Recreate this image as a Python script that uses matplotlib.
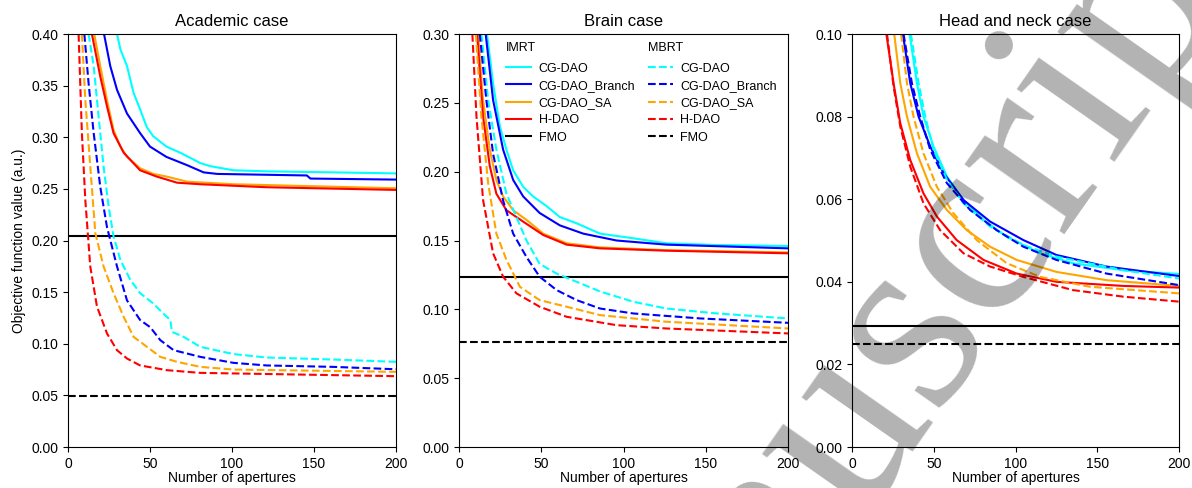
import matplotlib
matplotlib.use("Agg")
import matplotlib.pyplot as plt
import matplotlib.text as mtext
from matplotlib.legend_handler import HandlerBase
from matplotlib.lines import Line2D

plt.rcParams['font.family'] = ['Liberation Sans', 'DejaVu Sans']

# (number of apertures, objective value)
acad_imrt_cg = [(29.9, 0.40), (32, 0.385), (36, 0.369), (40, 0.343), (44, 0.327), (48, 0.310), (52, 0.301),
                (60, 0.291), (68.5, 0.285), (80.7, 0.275), (86.8, 0.272), (101, 0.268), (121, 0.267),
                (162, 0.266), (200, 0.265)]
acad_imrt_branch = [(22, 0.40), (25.8, 0.369), (29.9, 0.346), (36, 0.323), (44, 0.304), (50, 0.291),
                    (60, 0.281), (72.6, 0.273), (82.7, 0.266), (91, 0.2645), (145.7, 0.263), (147.8, 0.260),
                    (200, 0.259)]
acad_imrt_sa = [(16, 0.40), (19.7, 0.369), (23.8, 0.336), (27.8, 0.307), (32, 0.291), (36, 0.281), (44, 0.270),
                (52, 0.2645), (60, 0.262), (72.6, 0.257), (101, 0.2545), (200, 0.2506)]
acad_imrt_hdao = [(14.6, 0.40), (19.7, 0.359), (23.8, 0.330), (27.8, 0.304), (34, 0.285), (44, 0.268),
                  (54, 0.262), (66.5, 0.256), (80.7, 0.2545), (121, 0.2516), (200, 0.249)]
acad_mbrt_cg = [(12.6, 0.40), (15.7, 0.369), (18.7, 0.320), (21.7, 0.272), (24.8, 0.233), (27.8, 0.204),
                (32, 0.181), (38, 0.162), (44, 0.149), (52, 0.139), (58.3, 0.129), (62.4, 0.123), (63.4, 0.1116),
                (70.5, 0.1067), (80.7, 0.097), (101, 0.090), (121, 0.0867), (162, 0.0847), (200, 0.0825)]
acad_mbrt_branch = [(10, 0.40), (12.6, 0.352), (15.7, 0.304), (19.7, 0.252), (23.8, 0.213), (29.9, 0.175),
                    (36, 0.142), (44, 0.123), (50.2, 0.116), (56.3, 0.1035), (64.4, 0.0938), (80.7, 0.0873),
                    (101, 0.0815), (121, 0.079), (162, 0.0776), (200, 0.0753)]
acad_mbrt_sa = [(8.5, 0.40), (10.6, 0.336), (13.6, 0.272), (16.7, 0.207), (21.7, 0.175), (27.8, 0.149),
                (34, 0.126), (40, 0.1067), (48.2, 0.097), (56.3, 0.0873), (66.5, 0.0825), (80.7, 0.0776),
                (101, 0.075), (200, 0.0728)]
acad_mbrt_hdao = [(6.5, 0.40), (8.5, 0.304), (10.6, 0.239), (13.6, 0.175), (17.7, 0.136), (23.8, 0.110),
                  (29.9, 0.0938), (36, 0.0857), (44, 0.079), (60.4, 0.0744), (80.7, 0.0718), (200, 0.0686)]
acad_fmo = (0.204, 0.0495)  # IMRT, MBRT

brain_imrt_cg = [(17, 0.30), (20.7, 0.264), (24.8, 0.233), (28.8, 0.216), (32.9, 0.201), (39, 0.189),
                 (45, 0.182), (53.2, 0.175), (61.3, 0.167), (71.5, 0.1625), (85.7, 0.155), (106, 0.1516),
                 (126, 0.148), (157, 0.1467), (200, 0.146)]
brain_imrt_branch = [(16.2, 0.30), (20.7, 0.252), (26.8, 0.216), (32.9, 0.194), (39, 0.182), (49, 0.170),
                     (61.3, 0.161), (75.5, 0.155), (95.8, 0.150), (126, 0.147), (167, 0.1455), (200, 0.1443)]
brain_imrt_sa = [(11.6, 0.30), (14.6, 0.252), (18.7, 0.216), (22.7, 0.194), (26.8, 0.182), (32.9, 0.172),
                 (41, 0.165), (51.2, 0.155), (65.4, 0.148), (85.7, 0.145), (126, 0.143), (200, 0.1414)]
brain_imrt_hdao = [(11, 0.30), (14.6, 0.240), (18.7, 0.204), (22.7, 0.184), (28.8, 0.172), (39, 0.1637),
                   (51.2, 0.154), (65.4, 0.147), (85.7, 0.1443), (126, 0.1426), (200, 0.1407)]
brain_mbrt_cg = [(13.6, 0.30), (17.7, 0.252), (22.7, 0.216), (28.8, 0.184), (34.9, 0.167), (41, 0.150),
                 (49, 0.133), (59.3, 0.126), (71.5, 0.120), (85.7, 0.113), (106, 0.1055), (126, 0.1006),
                 (157, 0.097), (200, 0.0934)]
brain_mbrt_branch = [(12.6, 0.30), (16.6, 0.252), (20.7, 0.213), (26.8, 0.179), (32.9, 0.155), (41, 0.138),
                     (49, 0.1237), (59.3, 0.114), (71.5, 0.1067), (85.7, 0.1006), (106, 0.097), (146.6, 0.0934),
                     (200, 0.0902)]
brain_mbrt_sa = [(10.2, 0.30), (13.6, 0.240), (17.7, 0.1916), (22.7, 0.155), (28.8, 0.136), (37, 0.1164),
                 (49, 0.1067), (65.4, 0.1019), (85.7, 0.0958), (126, 0.091), (200, 0.0861)]
brain_mbrt_hdao = [(8.1, 0.30), (10.6, 0.240), (14.6, 0.1795), (20.7, 0.1407), (26.8, 0.1237), (34.9, 0.1116),
                   (49, 0.1019), (65.4, 0.0946), (95.8, 0.0885), (126, 0.0861), (200, 0.0825)]
brain_fmo = (0.1237, 0.0764)

hn_imrt_cg = [(35.2, 0.10), (39.7, 0.0881), (43.7, 0.080), (49.8, 0.0728), (58, 0.0655), (68.2, 0.0598),
              (80.4, 0.055), (94.6, 0.0509), (115, 0.0469), (135, 0.0445), (166, 0.0428), (200, 0.0419)]
hn_imrt_branch = [(31.1, 0.10), (35.6, 0.0881), (40.7, 0.080), (47.8, 0.0728), (56, 0.0663), (68.2, 0.0598),
                  (84.4, 0.0546), (104.8, 0.0501), (125, 0.0465), (155.6, 0.0437), (200, 0.0414)]
hn_imrt_sa = [(25.8, 0.10), (29.5, 0.0881), (33.6, 0.080), (39.7, 0.0711), (47.8, 0.063), (58, 0.0574),
              (70.2, 0.0525), (84.4, 0.0485), (100.7, 0.0453), (125, 0.0424), (155.6, 0.0404), (200, 0.039)]
hn_imrt_hdao = [(21, 0.10), (25.4, 0.0881), (29.5, 0.0784), (35.6, 0.0695), (43.7, 0.0614), (51.9, 0.0558),
                (64, 0.0501), (80.4, 0.0453), (100.7, 0.042), (125, 0.040), (166, 0.039), (200, 0.0386)]
hn_mbrt_cg = [(36, 0.10), (40.7, 0.0881), (44.8, 0.080), (49.8, 0.072), (58, 0.0647), (68.2, 0.059),
              (84.4, 0.0534), (104.8, 0.0489), (125, 0.0461), (166, 0.0428), (200, 0.0408)]
hn_mbrt_branch = [(31.5, 0.10), (36.6, 0.0881), (41.7, 0.080), (47.8, 0.072), (58, 0.0639), (72.2, 0.0574),
                  (88.5, 0.0525), (104.8, 0.0485), (125, 0.0453), (155.6, 0.042), (200, 0.0392)]
hn_mbrt_sa = [(30, 0.10), (33.6, 0.0881), (37.6, 0.080), (43.7, 0.0711), (51.9, 0.063), (62, 0.0566),
              (76.3, 0.0501), (94.6, 0.0445), (115, 0.0412), (145.5, 0.0388), (200, 0.0372)]
hn_mbrt_hdao = [(21.4, 0.10), (25.4, 0.0873), (29.5, 0.0776), (35.6, 0.0679), (43.7, 0.059), (53.9, 0.0525),
                (68.2, 0.0469), (84.4, 0.0437), (104.8, 0.0412), (135, 0.038), (166, 0.0364), (200, 0.0352)]
hn_fmo = (0.0293, 0.0249)

titles = ['Academic case', 'Brain case', 'Head and neck case']
methods = ['CG-DAO', 'CG-DAO_Branch', 'CG-DAO_SA', 'H-DAO']
colors = ['cyan', 'blue', 'orange', 'red']
y_limits = [0.40, 0.30, 0.10]
y_steps = [0.05, 0.05, 0.02]

panels = [
    ([acad_imrt_cg, acad_imrt_branch, acad_imrt_sa, acad_imrt_hdao],
     [acad_mbrt_cg, acad_mbrt_branch, acad_mbrt_sa, acad_mbrt_hdao], acad_fmo),
    ([brain_imrt_cg, brain_imrt_branch, brain_imrt_sa, brain_imrt_hdao],
     [brain_mbrt_cg, brain_mbrt_branch, brain_mbrt_sa, brain_mbrt_hdao], brain_fmo),
    ([hn_imrt_cg, hn_imrt_branch, hn_imrt_sa, hn_imrt_hdao],
     [hn_mbrt_cg, hn_mbrt_branch, hn_mbrt_sa, hn_mbrt_hdao], hn_fmo),
]


class TextHandler(HandlerBase):
    # draws the column header ("IMRT"/"MBRT") where the handle would go
    def create_artists(self, legend, orig_handle, x0, y0, width, height, fontsize, trans):
        t = mtext.Text(x0, y0, orig_handle, fontsize=fontsize, transform=trans,
                       ha='left', va='bottom')
        return [t]


fig = plt.figure(figsize=(11.92, 4.88), dpi=100)
rects = [[0.0570, 0.084, 0.2752, 0.8463],
         [0.3851, 0.084, 0.2760, 0.8463],
         [0.7148, 0.084, 0.2743, 0.8463]]

for i, (imrt, mbrt, fmo) in enumerate(panels):
    ax = fig.add_axes(rects[i])
    for pts, c in zip(imrt, colors):
        xs, ys = zip(*pts)
        ax.plot(xs, ys, color=c, lw=1.5)
    ax.axhline(fmo[0], color='black', lw=1.5)
    for pts, c in zip(mbrt, colors):
        xs, ys = zip(*pts)
        ax.plot(xs, ys, color=c, lw=1.5, ls='--')
    ax.axhline(fmo[1], color='black', lw=1.5, ls='--')

    ax.set_xlim(0, 200)
    ax.set_ylim(0, y_limits[i])
    ax.set_xticks([0, 50, 100, 150, 200])
    n = int(round(y_limits[i] / y_steps[i]))
    ax.set_yticks([k * y_steps[i] for k in range(n + 1)])
    ax.yaxis.set_major_formatter(matplotlib.ticker.FormatStrFormatter('%.2f'))
    ax.tick_params(labelsize=10)
    ax.set_title(titles[i], fontsize=12)
    ax.set_xlabel('Number of apertures', fontsize=10, labelpad=0)
    if i == 0:
        ax.set_ylabel('Objective function value (a.u.)', fontsize=10)
    if i == 1:
        handles = ['IMRT'] + [Line2D([], [], color=c, lw=1.5) for c in colors] + \
                  [Line2D([], [], color='black', lw=1.5)]
        handles += ['MBRT'] + [Line2D([], [], color=c, lw=1.5, ls='--') for c in colors] + \
                   [Line2D([], [], color='black', lw=1.5, ls='--')]
        labels = [''] + methods + ['FMO'] + [''] + methods + ['FMO']
        ax.legend(handles, labels, ncol=2, loc='upper right', frameon=False, fontsize=9,
                  columnspacing=1.0, handletextpad=0.6, labelspacing=0.42,
                  handler_map={str: TextHandler()})

# "Accepted manuscript" watermark crossing the right side of the page
fig.text(0.740, 0.227, 'manuscript', fontsize=190, family='Liberation Serif',
         color='black', alpha=0.3, rotation=55, rotation_mode='anchor',
         ha='center', va='center')

fig.savefig('out.png', dpi=100)
